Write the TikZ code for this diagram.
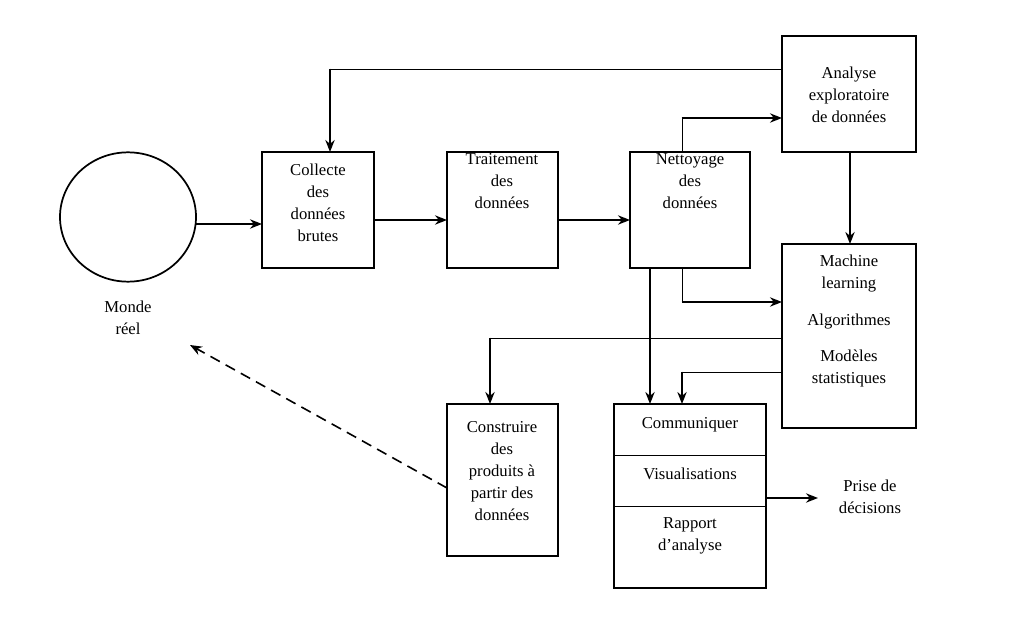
\documentclass[tikz,border=0pt]{standalone}
\usepackage{fontspec}
\setmainfont{Liberation Serif}
\usetikzlibrary{arrows.meta,shapes.geometric}
\begin{document}
\begin{tikzpicture}[x=0.75pt,y=-0.75pt,
  box/.style={draw,line width=1.3pt},
  lbl/.style={align=center,font=\fontsize{12.5}{16.5}\selectfont,inner sep=0pt},
  arr/.style={line width=1.2pt,-{Stealth[length=9pt,width=7pt]}},
  thin/.style={line width=0.7pt}]
\useasboundingbox (0,0) rectangle (1024,641);
\node[draw,line width=1.3pt,ellipse,minimum width=102pt,minimum height=97pt,inner sep=0pt] (monde) at (128,217) {};
\node[lbl] (mondet) at (128,318) {Monde\\réel};
\draw[box] (262,152) rectangle (374,268); \node[lbl] (col) at (318,203) {Collecte\\des\\données\\brutes};
\draw[box] (447,152) rectangle (558,268); \node[lbl] (tra) at (502,181) {Traitement\\des\\données};
\draw[box] (630,152) rectangle (750,268); \node[lbl] (net) at (690,181) {Nettoyage\\des\\données};
\draw[box] (782,36) rectangle (916,152); \node[lbl] (ana) at (849,95) {Analyse\\exploratoire\\de données};
\draw[box] (782,244) rectangle (916,428);
\node[lbl] (ml) at (849,274) {Machine\\learning};
\node[lbl] (alg) at (849,322) {Algorithmes};
\node[lbl] (mod) at (849,368) {Modèles\\statistiques};
\draw[box] (447,404) rectangle (558,556); \node[lbl] (con) at (502,471) {Construire\\des\\produits à\\partir des\\données};
\draw[box] (614,404) rectangle (766,588);
\draw[line width=0.7pt] (614,455) -- (766,455) (614,506) -- (766,506);
\node[lbl] (com) at (690,425) {Communiquer};
\node[lbl] (vis) at (690,474) {Visualisations};
\node[lbl] (rap) at (690,536) {Rapport\\d’analyse};
\node[lbl] (pri) at (870,497) {Prise de\\décisions};
\coordinate (mr) at (196,224);
\draw[arr] (mr) -- (262,224);
\draw[arr] (374,220) -- (447,220);
\draw[arr] (558,220) -- (630,220);
\draw[thin] (782,69) -- (330,69);
\draw[arr] (330,68.6) -- (330,152);
\draw[thin] (682,152) -- (682,118);
\draw[arr] (681.6,118) -- (782,118);
\draw[arr] (850,152) -- (850,244);
\draw[thin] (682,268) -- (682,302);
\draw[arr] (681.6,302) -- (782,302);
\draw[arr] (650,268) -- (650,404);
\draw[thin] (782,338) -- (490,338);
\draw[arr] (490,337.6) -- (490,404);
\draw[thin] (782,372) -- (682,372);
\draw[arr] (682,371.6) -- (682,404);
\draw[arr] (766,498) -- (818,498);
\draw[line width=1.2pt,dashed,dash pattern=on 8pt off 5pt,-{Stealth[length=9pt,width=7pt]}] (447,488) -- (190,345);
\end{tikzpicture}
\end{document}
